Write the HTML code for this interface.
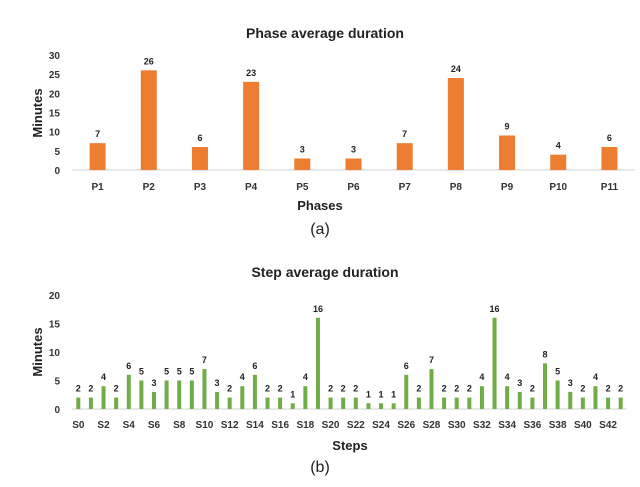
<!DOCTYPE html>
<html><head><meta charset="utf-8"><style>
body{margin:0;background:#fff;}
svg text{font-family:"Liberation Sans",sans-serif;}
</style></head><body>
<svg id="c" width="640" height="482">
<text x="325" y="38" text-anchor="middle" font-size="14" font-weight="bold" fill="#222">Phase average duration</text>
<text x="320" y="210" text-anchor="middle" font-size="13" font-weight="bold" fill="#222">Phases</text>
<text x="320" y="234" text-anchor="middle" font-size="16" font-family="Liberation Serif" fill="#222">(a)</text>
<text transform="translate(42,113) rotate(-90)" text-anchor="middle" font-size="13" font-weight="bold" fill="#222">Minutes</text>
<text x="325" y="277" text-anchor="middle" font-size="14" font-weight="bold" fill="#222">Step average duration</text>
<text x="350" y="450" text-anchor="middle" font-size="13" font-weight="bold" fill="#222">Steps</text>
<text x="320" y="472" text-anchor="middle" font-size="16" font-family="Liberation Serif" fill="#222">(b)</text>
<text transform="translate(42,352) rotate(-90)" text-anchor="middle" font-size="13" font-weight="bold" fill="#222">Minutes</text>
<g id="g1"></g><g id="g2"></g>
</svg>
<script>
const phaseCats=["P1","P2","P3","P4","P5","P6","P7","P8","P9","P10","P11"];
const phaseVals=[7,26,6,23,3,3,7,24,9,4,6];
const phaseTicks=[0,5,10,15,20,25,30];
const stepVals=[2,2,4,2,6,5,3,5,5,5,7,3,2,4,6,2,2,1,4,16,2,2,2,1,1,1,6,2,7,2,2,2,4,16,4,3,2,8,5,3,2,4,2,2];
const stepTicks=[0,5,10,15,20];
const NS="http://www.w3.org/2000/svg";
function mk(p,t,a){const e=document.createElementNS(NS,t);for(const k in a)e.setAttribute(k,a[k]);p.appendChild(e);return e;}
function draw(g,cats,vals,ticks,o){
  const n=cats.length,bw=(o.x1-o.x0)/n;
  const y=v=>o.y0-(v/ticks[ticks.length-1])*(o.y0-o.yt);
  ticks.forEach(t=>{const e=mk(g,"text",{x:o.x0-12,y:y(t)+4,"text-anchor":"end","font-size":"10","font-weight":"bold",fill:"#333"});e.textContent=t;
    
    });
  const ax=mk(g,"line",{x1:o.x0,x2:o.x1,y1:o.y0,y2:o.y0,stroke:"#d0d0d0","stroke-width":1});
  
  
  vals.forEach((v,i)=>{const cx=o.x0+bw*(i+0.5);
    const r=mk(g,"rect",{x:cx-o.w/2,y:y(v),width:o.w,height:o.y0-y(v),fill:o.color});
    
    
    const l=mk(g,"text",{x:cx,y:y(v)-6,"text-anchor":"middle","font-size":o.fs,"font-weight":"bold",fill:"#222"});l.textContent=v;
    
    
    if(i%o.every===0){const c=mk(g,"text",{x:cx,y:o.y0+o.ly,"text-anchor":"middle","font-size":"10","font-weight":"bold",fill:"#333"});c.textContent=cats[i];
      
      }
  });
}
draw(document.getElementById("g1"),phaseCats,phaseVals,phaseTicks,{x0:72,x1:635,y0:170,yt:55,w:16,color:"#ed7d31",fs:"9",every:1,ly:20});
const stepCats=stepVals.map((v,i)=>"S"+i);
draw(document.getElementById("g2"),stepCats,stepVals,stepTicks,{x0:72,x1:627,y0:409,yt:295,w:4,color:"#70ad47",fs:"9",every:2,ly:19});
</script>
</body></html>
